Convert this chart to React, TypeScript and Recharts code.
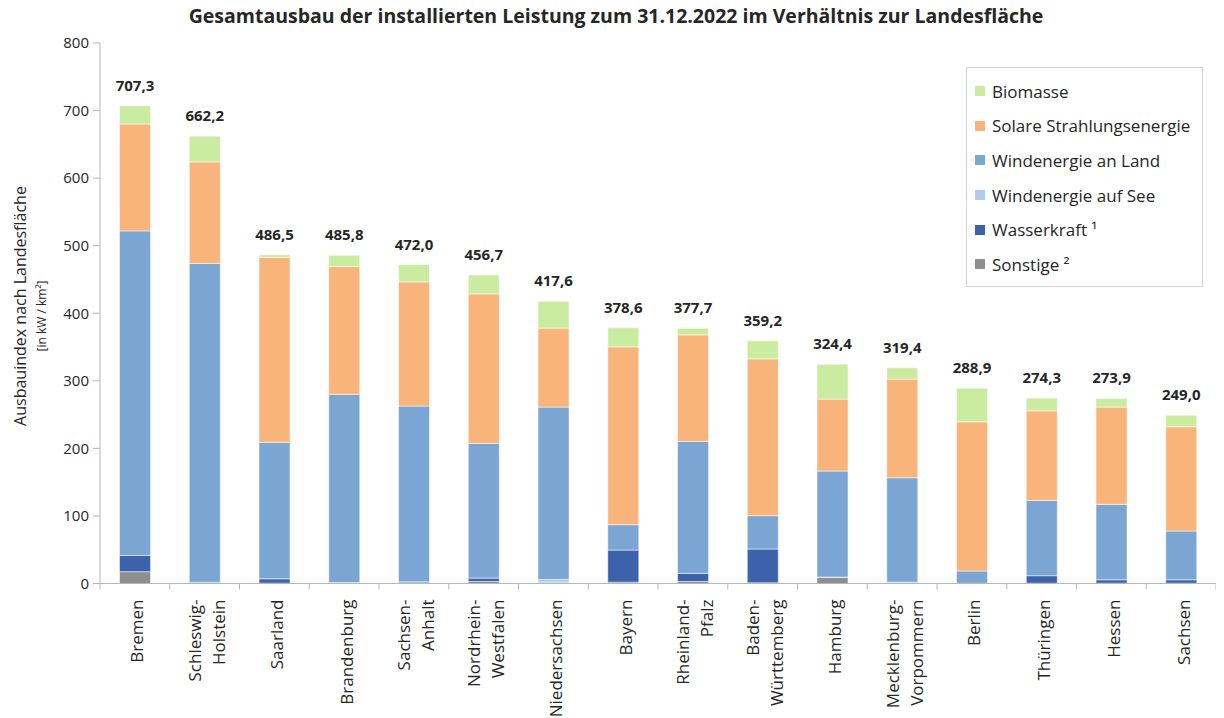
import { Bar, BarChart, LabelList, Legend, XAxis, YAxis } from "recharts";

const states = [
  "Bremen",
  "Schleswig-Holstein",
  "Saarland",
  "Brandenburg",
  "Sachsen-Anhalt",
  "Nordrhein-Westfalen",
  "Niedersachsen",
  "Bayern",
  "Rheinland-Pfalz",
  "Baden-Württemberg",
  "Hamburg",
  "Mecklenburg-Vorpommern",
  "Berlin",
  "Thüringen",
  "Hessen",
  "Sachsen",
];

const tickLines = [
  ["Bremen"],
  ["Schleswig-", "Holstein"],
  ["Saarland"],
  ["Brandenburg"],
  ["Sachsen-", "Anhalt"],
  ["Nordrhein-", "Westfalen"],
  ["Niedersachsen"],
  ["Bayern"],
  ["Rheinland-", "Pfalz"],
  ["Baden-", "Württemberg"],
  ["Hamburg"],
  ["Mecklenburg-", "Vorpommern"],
  ["Berlin"],
  ["Thüringen"],
  ["Hessen"],
  ["Sachsen"],
];

const totals = [707.3, 662.2, 486.5, 485.8, 472.0, 456.7, 417.6, 378.6, 377.7, 359.2, 324.4, 319.4, 288.9, 274.3, 273.9, 249.0];

const sonstige = [17.5, 1, 0.5, 1, 1, 3, 1, 2, 3, 1, 9, 0.5, 0.5, 0.5, 0.5, 0.5];
const wasserkraft = [24, 1, 6.5, 0.5, 1.5, 5, 1, 47.5, 12, 50, 0.5, 0.5, 0, 11, 5, 5];
const windSee = [0, 0, 0, 0, 0, 0, 4, 0, 0, 0, 0, 1, 0, 0, 0, 0];
const windLand = [480.4, 471.7, 201.9, 278.4, 260.1, 199.4, 255.1, 37.5, 195.3, 49.3, 156.9, 154.5, 18, 111.5, 111.6, 72.2];
const solar = [158.2, 150.3, 273.6, 189.3, 183.9, 221.3, 117, 263.3, 157.7, 232.2, 106.5, 146, 220.8, 132.6, 144, 154.3];
const biomasse = [27.1, 38.2, 4, 16.6, 25.5, 28, 39.6, 28.3, 9.7, 26.7, 51.5, 16.9, 49.6, 18.7, 12.8, 17];

const yTicks = [0, 100, 200, 300, 400, 500, 600, 700, 800];

const series = [
  { key: "sonstige", name: "Sonstige ²", color: "#8f8f8f" },
  { key: "wasserkraft", name: "Wasserkraft ¹", color: "#3b62ab" },
  { key: "windSee", name: "Windenergie auf See", color: "#aecbeb" },
  { key: "windLand", name: "Windenergie an Land", color: "#7ba5d2" },
  { key: "solar", name: "Solare Strahlungsenergie", color: "#f9b47c" },
  { key: "biomasse", name: "Biomasse", color: "#c9eca0" },
];

const data = states.map((state, i) => ({
  state,
  total: totals[i],
  sonstige: sonstige[i],
  wasserkraft: wasserkraft[i],
  windSee: windSee[i],
  windLand: windLand[i],
  solar: solar[i],
  biomasse: biomasse[i],
}));

const FONT = "'Open Sans', sans-serif";
const W = 1212;
const H = 710;
const M = { top: 35, right: 4, left: 42, bottom: 0 };
const Y_W = 50;
const X_H = 134.5;
const PLOT_LEFT = M.left + Y_W;
const PLOT_RIGHT = W - M.right;
const PLOT_BOTTOM = H - M.bottom - X_H;
const BAND = (PLOT_RIGHT - PLOT_LEFT) / states.length;
const AXIS = "#b7b7b7";
const TEXT = "#262626";

const fmt = (v: number) => v.toFixed(1).replace(".", ",");

const StateTick = (props: any) => {
  const { x, payload } = props;
  const idx = payload.index;
  const lines = tickLines[idx] || [payload.value];
  const y0 = PLOT_BOTTOM + 16;
  return (
    <g>
      <line x1={x - BAND / 2} x2={x - BAND / 2} y1={PLOT_BOTTOM} y2={PLOT_BOTTOM + 6} stroke={AXIS} />
      {idx === states.length - 1 && (
        <line x1={x + BAND / 2} x2={x + BAND / 2} y1={PLOT_BOTTOM} y2={PLOT_BOTTOM + 6} stroke={AXIS} />
      )}
      {lines.map((l: string, i: number) => {
        const lx = x + 2 + (i - (lines.length - 1) / 2) * 24;
        return (
          <text
            key={i}
            transform={`translate(${lx},${y0}) rotate(-90)`}
            textAnchor="end"
            dominantBaseline="central"
            fontSize={17}
            fontFamily={FONT}
            fill={TEXT}
          >
            {l}
          </text>
        );
      })}
    </g>
  );
};

const TotalLabel = (props: any) => {
  const { x, y, width, index } = props;
  return (
    <text
      x={x + width / 2}
      y={y - 15}
      textAnchor="middle"
      fontSize={15}
      fontWeight={700}
      fontFamily={FONT}
      fill={TEXT}
    >
      {fmt(totals[index])}
    </text>
  );
};

const LegendBox = () => (
  <div
    style={{
      border: "1px solid #d4d4d4",
      background: "#fff",
      padding: "6px 4px 4px 8px",
      width: 237,
      boxSizing: "border-box",
      fontFamily: FONT,
      fontSize: 17,
      color: TEXT,
      textAlign: "left",
    }}
  >
    {[...series].reverse().map((s) => (
      <div key={s.key} style={{ display: "flex", alignItems: "center", height: 34.6, whiteSpace: "nowrap" }}>
        <span style={{ width: 10, height: 10, background: s.color, marginRight: 7, display: "inline-block", flex: "none" }} />
        <span>{s.name}</span>
      </div>
    ))}
  </div>
);

export default function App() {
  return (
    <div style={{ position: "relative", width: W, height: H, fontFamily: FONT }}>
      <div
        style={{
          position: "absolute",
          top: -6,
          left: 0,
          width: 1216,
          textAlign: "center",
          fontSize: 19.5,
          fontWeight: 700,
          color: TEXT,
          zIndex: 2,
        }}
      >
        Gesamtausbau der installierten Leistung zum 31.12.2022 im Verhältnis zur Landesfläche
      </div>
      <div style={{ position: "absolute", left: 12, top: 298, width: 0, height: 0, zIndex: 2 }}>
        <div
          style={{
            position: "absolute",
            transform: "translate(-50%, -50%) rotate(-90deg)",
            whiteSpace: "nowrap",
            fontSize: 16,
            color: TEXT,
          }}
        >
          Ausbauindex nach Landesfläche
        </div>
      </div>
      <div style={{ position: "absolute", left: 33, top: 308, width: 0, height: 0, zIndex: 2 }}>
        <div
          style={{
            position: "absolute",
            transform: "translate(-50%, -50%) rotate(-90deg)",
            whiteSpace: "nowrap",
            fontSize: 12,
            color: TEXT,
          }}
        >
          [in kW / km²]
        </div>
      </div>
      <BarChart width={W} height={H} data={data} margin={M} barCategoryGap="28%">
        <XAxis
          dataKey="state"
          interval={0}
          height={X_H}
          tick={<StateTick />}
          tickLine={false}
          axisLine={{ stroke: AXIS }}
        />
        <YAxis
          width={Y_W}
          domain={[0, 800]}
          ticks={yTicks}
          interval={0}
          tickSize={7}
          tickMargin={4}
          axisLine={{ stroke: AXIS }}
          tickLine={{ stroke: AXIS }}
          tick={{ fontSize: 15, fill: TEXT, fontFamily: FONT }}
        />
        <Legend
          layout="vertical"
          verticalAlign="middle"
          align="center"
          wrapperStyle={{ position: "absolute", left: 958, top: 59, width: 237, height: "auto" }}
          content={<LegendBox />}
        />
        {series.map((s) => (
          <Bar
            key={s.key}
            dataKey={s.key}
            name={s.name}
            stackId="a"
            fill={s.color}
            stroke="#ffffff"
            strokeOpacity={0.5}
            strokeWidth={1}
            isAnimationActive={false}
          >
            {s.key === "biomasse" && <LabelList dataKey="total" content={<TotalLabel />} />}
          </Bar>
        ))}
      </BarChart>
    </div>
  );
}
